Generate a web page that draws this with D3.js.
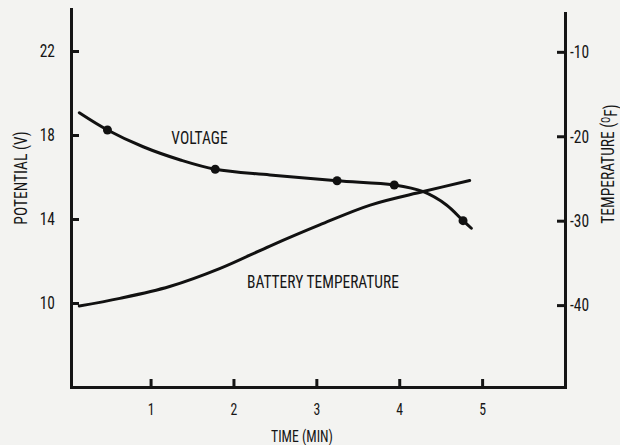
<!DOCTYPE html>
<html>
<head>
<meta charset="utf-8">
<title>Voltage and battery temperature</title>
<script src="https://cdn.jsdelivr.net/npm/d3@7/dist/d3.min.js"></script>
<style>
    body { margin: 0; background: #f3f3f1; }
    svg { display: block; }
    text {
        font-family: "Roboto Condensed", "DejaVu Sans Condensed", sans-serif;
        font-size: 18px;
        fill: #161616;
    }
    .axis path, .axis line { stroke: #151515; stroke-width: 3px; }
</style>
</head>
<body>
<svg id="chart" width="620" height="445"></svg>
<script>
    // voltage curve (time in min, potential in V)
    var voltTime  = [0.14, 0.48, 0.91, 1.36, 1.78, 2.44, 3.25, 3.94, 4.29, 4.57, 4.77, 4.87];
    var voltValue = [19.06, 18.24, 17.44, 16.81, 16.37, 16.10, 15.82, 15.62, 15.30, 14.67, 13.92, 13.56];
    // measured points on the voltage curve
    var markTime  = [0.48, 1.78, 3.25, 3.94, 4.77];
    var markValue = [18.24, 16.37, 15.82, 15.62, 13.92];
    // battery temperature curve (deg F)
    var tempTime  = [0.14, 0.63, 1.23, 1.84, 2.44, 3.04, 3.65, 4.29, 4.85];
    var tempValue = [-40.1, -39.2, -37.8, -35.65, -33.0, -30.5, -28.15, -26.55, -25.25];

    var timeTicks = [1, 2, 3, 4, 5];
    var voltTicks = [10, 14, 18, 22];
    var tempTicks = [-40, -30, -20, -10];

    var svg = d3.select("#chart");

    var x = d3.scaleLinear().domain([0.04, 6]).range([71, 565]);
    var yV = d3.scaleLinear().domain([6, 24]).range([387, 9]);
    var yT = d3.scaleLinear().domain([-49.7, -5.4]).range([387, 13]);

    var x0 = x.range()[0], x1 = x.range()[1], yb = yV.range()[0];

    // narrow the lettering: move x/y into a transform and scale along the text direction
    function squeeze(sel, k) {
        sel.each(function () {
            var t = d3.select(this),
                tx = +t.attr("x") || 0,
                ty = +t.attr("y") || 0,
                base = t.attr("transform") || "";
            t.attr("x", null).attr("y", null)
                .attr("transform", base + " translate(" + tx + "," + ty + ") scale(" + k + ",1)");
        });
    }

    // axes
    var gx = svg.append("g").attr("class", "axis")
        .attr("transform", "translate(0," + yb + ")")
        .call(d3.axisBottom(x).tickValues(timeTicks).tickFormat(d3.format("d"))
            .tickSize(-8).tickSizeOuter(0).tickPadding(17));

    var gl = svg.append("g").attr("class", "axis")
        .attr("transform", "translate(" + x0 + ",0)")
        .call(d3.axisLeft(yV).tickValues(voltTicks).tickSize(-8).tickSizeOuter(0).tickPadding(16));

    var gr = svg.append("g").attr("class", "axis")
        .attr("transform", "translate(" + x1 + ",0)")
        .call(d3.axisRight(yT).tickValues(tempTicks).tickSize(-8).tickSizeOuter(0).tickPadding(5)
            .tickFormat(function (d) { return String(d); }));

    svg.selectAll(".axis text").style("font-size", "18px").attr("fill", "#161616");
    gx.selectAll("text").style("font-size", "16px");
    svg.selectAll(".axis").attr("font-family", null).attr("font-size", null);
    squeeze(svg.selectAll(".axis .tick text"), 0.86);

    svg.selectAll(".axis path").attr("stroke-linecap", "square");

    // curves
    var voltLine = d3.line()
        .x(function (d) { return x(d[0]); })
        .y(function (d) { return yV(d[1]); })
        .curve(d3.curveCatmullRom.alpha(0.5));

    var tempLine = d3.line()
        .x(function (d) { return x(d[0]); })
        .y(function (d) { return yT(d[1]); })
        .curve(d3.curveCatmullRom.alpha(0.5));

    svg.append("path")
        .datum(d3.zip(voltTime, voltValue))
        .attr("d", voltLine)
        .attr("fill", "none").attr("stroke", "#111").attr("stroke-width", 3).attr("stroke-linecap", "round");

    svg.append("path")
        .datum(d3.zip(tempTime, tempValue))
        .attr("d", tempLine)
        .attr("fill", "none").attr("stroke", "#111").attr("stroke-width", 3).attr("stroke-linecap", "round");

    svg.selectAll(".mark")
        .data(d3.zip(markTime, markValue))
        .join("circle")
        .attr("class", "mark")
        .attr("cx", function (d) { return x(d[0]); })
        .attr("cy", function (d) { return yV(d[1]); })
        .attr("r", 4.5)
        .attr("fill", "#111");

    // labels
    var lab = svg.append("g");
    lab.append("text")
        .attr("x", x(1.59)).attr("y", yV(17.9))
        .attr("text-anchor", "middle").attr("dy", "0.36em")
        .text("VOLTAGE");
    lab.append("text")
        .attr("x", x(3.08)).attr("y", yV(11.0))
        .attr("text-anchor", "middle").attr("dy", "0.36em")
        .text("BATTERY TEMPERATURE");
    lab.append("text")
        .attr("x", 302).attr("y", 442)
        .attr("text-anchor", "middle")
        .style("font-size", "16px")
        .text("TIME (MIN)");
    lab.append("text")
        .attr("transform", "translate(21,178) rotate(-90)")
        .attr("text-anchor", "middle").attr("dy", "0.36em")
        .text("POTENTIAL (V)");

    var rt = lab.append("text")
        .attr("transform", "translate(608,164) rotate(-90)")
        .attr("text-anchor", "middle").attr("dy", "0.36em");
    rt.append("tspan").text("TEMPERATURE (");
    rt.append("tspan").attr("dy", "-0.4em").style("font-size", "12px").text("O");
    rt.append("tspan").attr("dy", "0.4em").text("F)");

    squeeze(lab.selectAll("text"), 0.86);
</script>
</body>
</html>
